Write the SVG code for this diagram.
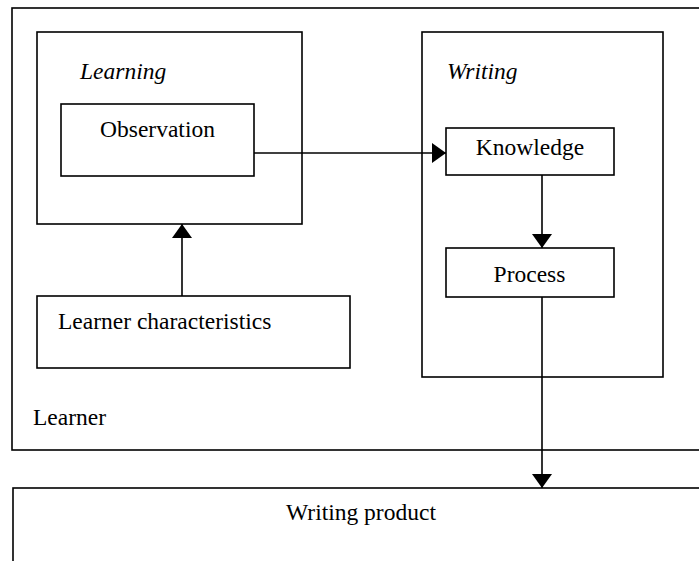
<svg xmlns="http://www.w3.org/2000/svg" width="699" height="561" viewBox="0 0 699 561">
  <style>
    .box { fill: none; stroke: #000; stroke-width: 1.6; }
    .lbl { font-family: "Liberation Serif", "Times New Roman", serif; font-size: 23.5px; fill: #000; }
    .it { font-style: italic; }
    .mid { text-anchor: middle; }
    .conn { fill: none; stroke: #000; stroke-width: 1.6; marker-end: url(#arrow); }
  </style>
  <defs>
    <marker id="arrow" viewBox="0 0 14 20" refX="14" refY="10" markerWidth="14" markerHeight="20" markerUnits="userSpaceOnUse" orient="auto">
      <path d="M0,0 L14,10 L0,20 z" fill="#000"/>
    </marker>
  </defs>
  <rect width="699" height="561" fill="#fff"/>

  <g id="learner">
    <rect class="box" x="12" y="8" width="700" height="442"/>
    <text class="lbl" x="33" y="424.5">Learner</text>
  </g>

  <g id="learning">
    <rect class="box" x="37" y="32" width="265" height="192"/>
    <text class="lbl it" x="80" y="79">Learning</text>
  </g>

  <g id="observation">
    <rect class="box" x="61" y="104" width="193" height="72"/>
    <text class="lbl mid" x="157.5" y="137">Observation</text>
  </g>

  <g id="learner-characteristics">
    <rect class="box" x="37" y="296" width="313" height="72"/>
    <text class="lbl" x="58" y="329">Learner characteristics</text>
  </g>

  <g id="writing">
    <rect class="box" x="422" y="32" width="241" height="345"/>
    <text class="lbl it" x="447" y="79">Writing</text>
  </g>

  <g id="knowledge">
    <rect class="box" x="446" y="128" width="168" height="47"/>
    <text class="lbl mid" x="530" y="154.5">Knowledge</text>
  </g>

  <g id="process">
    <rect class="box" x="446" y="248" width="168" height="49"/>
    <text class="lbl mid" x="529.5" y="281.5">Process</text>
  </g>

  <g id="writing-product">
    <rect class="box" x="13" y="488" width="700" height="100"/>
    <text class="lbl mid" x="361" y="520">Writing product</text>
  </g>

  <g id="connectors">
    <path class="conn" d="M254,153 H446"/>
    <path class="conn" d="M542,175 V248"/>
    <path class="conn" d="M182,296 V224"/>
    <path class="conn" d="M542,297 V488"/>
  </g>
</svg>
